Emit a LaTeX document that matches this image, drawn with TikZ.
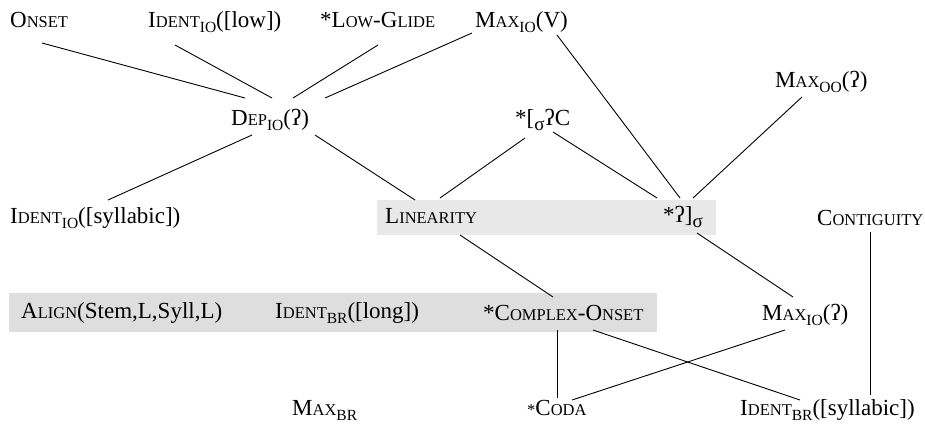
\documentclass[tikz,border=0pt]{standalone}
\usepackage{fontspec}
\setmainfont{Liberation Serif}
\usetikzlibrary{calc}
\newcommand\sC[1]{{\fontsize{16.5}{16.5}\selectfont #1}}
\newcommand\subs[1]{\raisebox{-5.5pt}{\fontsize{15.5}{15.5}\selectfont #1}}
\newcommand\sig{\raisebox{-5.5pt}{\fontsize{19}{19}\selectfont σ}}
\begin{document}
\begin{tikzpicture}[x=1pt,y=-1pt,
  lbl/.style={inner sep=0pt,anchor=base west,font=\fontsize{23}{26}\selectfont},
  conn/.style={line width=0.9pt,black}]
\useasboundingbox (0,0) rectangle (925,437);
% background bands
\fill[black!9] (377,200) rectangle (716,235);
\fill[black!13] (9,293) rectangle (657,332);
% nodes
\node[lbl] (onset) at (10,27) {O\sC{NSET}};
\node[lbl] (idlow) at (148,27) {I\sC{DENT}\subs{IO}([low])};
\node[lbl] (lowglide) at (320,27) {*L\sC{OW}-G\sC{LIDE}};
\node[lbl] (maxv) at (475,27) {M\sC{AX}\subs{IO}(V)};
\node[lbl] (maxoo) at (775,87) {M\sC{AX}\subs{OO}(ʔ)};
\node[lbl] (dep) at (231,125) {D\sC{EP}\subs{IO}(ʔ)};
\node[lbl] (sigc) at (515,125) {*[\sig ʔC};
\node[lbl] (idsyl) at (10,223) {I\sC{DENT}\subs{IO}([syllabic])};
\node[lbl] (lin) at (385,223) {L\sC{INEARITY}};
\node[lbl] (glot) at (663,222) {*ʔ]\sig};
\node[lbl] (contig) at (817,225) {C\sC{ONTIGUITY}};
\node[lbl] (align) at (21,318) {A\sC{LIGN}(Stem,L,Syll,L)};
\node[lbl] (idlong) at (275,318) {I\sC{DENT}\subs{BR}([long])};
\node[lbl] (complex) at (483,320) {*C\sC{OMPLEX}-O\sC{NSET}};
\node[lbl] (maxg) at (762,320) {M\sC{AX}\subs{IO}(ʔ)};
\node[lbl] (maxbr) at (292,415) {M\sC{AX}\subs{BR}};
\node[lbl] (coda) at (527,415) {\sC{*}C\sC{ODA}};
\node[lbl] (idbrsyl) at (740,415) {I\sC{DENT}\subs{BR}([syllabic])};
% connectors
\draw[conn] ($(onset.base west)+(32,16)$) -- ($(dep.base west)+(14,-27)$);
\draw[conn] ($(idlow.base west)+(27,18)$) -- ($(dep.base west)+(41,-27)$);
\draw[conn] ($(lowglide.base west)+(58,18)$) -- ($(dep.base west)+(62,-27)$);
\draw[conn] ($(maxv.base west)+(-3,6)$) -- ($(dep.base west)+(94,-27)$);
\draw[conn] ($(maxv.base west)+(82,8)$) -- ($(glot.base west)+(17,-24)$);
\draw[conn] ($(maxoo.base west)+(27,10)$) -- ($(glot.base west)+(30,-24)$);
\draw[conn] ($(sigc.base west)+(10,13)$) -- ($(lin.base west)+(55,-25)$);
\draw[conn] ($(sigc.base west)+(38,7)$) -- ($(glot.base west)+(-6,-24)$);
\draw[conn] ($(dep.base west)+(21,10)$) -- ($(idsyl.base west)+(98,-23)$);
\draw[conn] ($(dep.base west)+(84,10)$) -- ($(lin.base west)+(30,-23)$);
\draw[conn] ($(lin.base west)+(75,12)$) -- ($(complex.base west)+(70,-23)$);
\draw[conn] ($(glot.base west)+(34,11)$) -- ($(maxg.base west)+(31,-23)$);
\draw[conn] ($(contig.base west)+(53,7)$) -- ($(idbrsyl.base west)+(130,-20)$);
\draw[conn] ($(complex.base west)+(74,10)$) -- ($(coda.base west)+(30,-17)$);
\draw[conn] ($(complex.base west)+(110,10)$) -- ($(idbrsyl.base west)+(60,-15)$);
\draw[conn] ($(maxg.base west)+(23,10)$) -- ($(coda.base west)+(45,-15)$);
\end{tikzpicture}
\end{document}
